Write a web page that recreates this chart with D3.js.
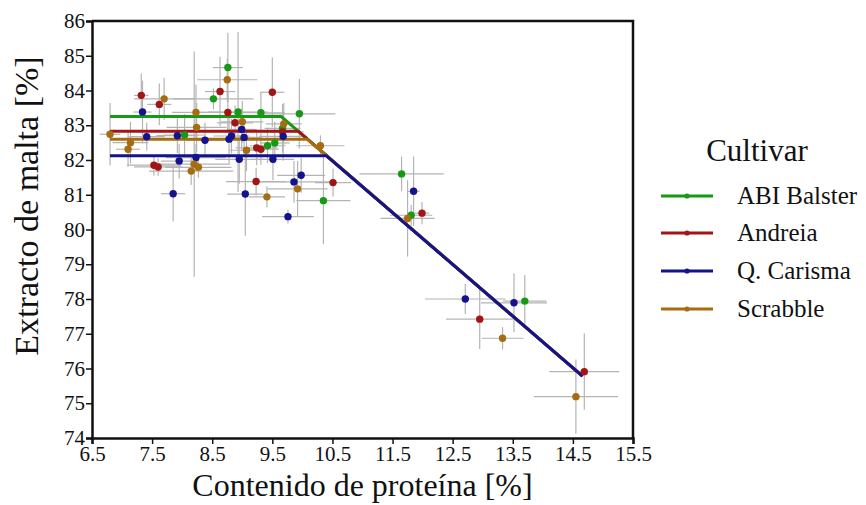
<!DOCTYPE html>
<html>
<head>
<meta charset="utf-8">
<script src="https://cdn.jsdelivr.net/npm/d3@7"></script>
<style>
  body { margin: 0; background: #fff; }
</style>
</head>
<body>
<svg width="866" height="505" font-family="Liberation Serif"></svg>
<script>
// each row: [protein %, extract %, protein error, extract error]
var abiBalster = [
  [8.04, 82.72, 0.35, 0.6], [8.52, 83.76, 0.67, 0.3], [8.76, 84.66, 0.25, 1.0],
  [8.93, 83.38, 0.5, 2.3], [9.31, 83.36, 0.4, 0.6], [9.42, 82.41, 0.3, 0.5],
  [9.54, 82.49, 0.25, 0.6], [9.67, 82.91, 0.3, 0.7], [9.95, 83.33, 0.6, 1.0],
  [10.35, 80.83, 0.45, 1.25], [11.65, 81.60, 0.7, 0.5], [11.81, 80.41, 0.35, 0.3],
  [13.70, 77.94, 0.36, 0.75]
];
var andreia = [
  [7.32, 83.86, 0.12, 0.63], [7.62, 83.60, 0.2, 0.6], [7.53, 81.85, 0.45, 0.3],
  [7.60, 81.80, 0.4, 0.25], [8.63, 83.97, 0.25, 1.0], [8.76, 83.37, 0.45, 0.6],
  [8.88, 83.07, 0.3, 0.5], [9.23, 81.38, 0.5, 0.4], [9.24, 82.35, 0.35, 0.5],
  [9.31, 82.31, 0.3, 0.45], [9.50, 83.95, 0.2, 1.0], [9.67, 82.81, 0.35, 0.5],
  [10.51, 81.35, 0.3, 0.4], [11.99, 80.47, 0.12, 0.32], [12.95, 77.42, 0.56, 0.86],
  [14.69, 75.91, 0.58, 1.1]
];
var qCarisma = [
  [7.34, 83.38, 0.15, 0.9], [7.41, 82.67, 0.3, 0.4], [7.85, 81.03, 0.2, 0.8],
  [7.95, 81.97, 0.3, 0.5], [7.92, 82.70, 0.35, 0.5], [8.23, 82.07, 0.5, 0.4],
  [8.38, 82.57, 0.3, 0.5], [8.78, 82.60, 0.4, 0.7], [8.82, 82.69, 0.3, 0.5],
  [8.99, 82.88, 0.25, 0.6], [9.03, 82.65, 0.3, 0.5], [8.95, 82.02, 0.4, 0.7],
  [9.05, 81.02, 0.3, 1.2], [9.51, 82.02, 0.35, 0.6], [9.68, 82.68, 0.4, 0.7],
  [9.98, 81.56, 0.4, 0.5], [9.86, 81.37, 0.6, 0.6], [9.76, 80.37, 0.43, 0.2],
  [11.85, 81.10, 0.1, 1.0], [12.71, 78.00, 0.67, 0.43], [13.52, 77.89, 0.55, 0.85]
];
var scrabble = [
  [6.80, 82.74, 0.17, 0.9], [7.10, 82.31, 0.2, 0.5], [7.14, 82.50, 0.3, 0.6],
  [7.70, 83.76, 0.5, 0.6], [8.23, 83.37, 0.4, 0.8], [8.24, 82.94, 0.5, 0.7],
  [8.20, 81.88, 0.6, 3.24], [8.27, 81.79, 0.55, 0.3], [8.15, 81.68, 0.7, 0.4],
  [8.75, 84.31, 0.5, 0.6], [9.00, 83.10, 0.35, 0.6], [9.07, 82.28, 0.3, 0.6],
  [9.41, 80.94, 0.3, 0.3], [9.69, 83.04, 0.3, 0.6], [9.92, 81.17, 0.5, 0.8],
  [10.30, 82.41, 0.4, 0.3], [11.75, 80.32, 0.45, 1.1], [13.33, 76.87, 0.35, 0.32],
  [14.55, 75.19, 0.7, 1.07]
];

var cultivars = ["ABI Balster", "Andreia", "Q. Carisma", "Scrabble"];
var colors = ["#169a16", "#a31414", "#13138e", "#a56d10"];
// broken-line fit: plateau level, break point, shared descending end
var plateau = [83.25, 82.83, 82.12, 82.60];
var breakX = [9.65, 9.93, 10.40, 10.08];
var fitStartX = 6.8;
var fitEnd = [14.66, 75.78];

var xTicks = [6.5, 7.5, 8.5, 9.5, 10.5, 11.5, 12.5, 13.5, 14.5, 15.5];
var yTicks = [74, 75, 76, 77, 78, 79, 80, 81, 82, 83, 84, 85, 86];

var series = [abiBalster, andreia, qCarisma, scrabble];
var FONT = "Liberation Serif";

var svg = d3.select("svg");
var plotL = 92, plotR = 633, plotT = 21, plotB = 438;

var x = d3.scaleLinear().domain([6.5, 15.5]).range([plotL, plotR]);
var y = d3.scaleLinear().domain([74, 86]).range([plotB, plotT]);

function serifText(sel, size) {
  return sel.attr("font-family", FONT)
    .style("font-family", FONT)
    .attr("font-size", size)
    .attr("fill", "#111");
}

// error bars
var err = svg.append("g").attr("stroke", "#b4b4b4").attr("stroke-width", 1.2);
series.forEach(function(s) {
  s.forEach(function(d) {
    err.append("line")
      .attr("x1", x(d[0] - d[2])).attr("x2", x(d[0] + d[2]))
      .attr("y1", y(d[1])).attr("y2", y(d[1]));
    err.append("line")
      .attr("x1", x(d[0])).attr("x2", x(d[0]))
      .attr("y1", y(Math.max(74, d[1] - d[3]))).attr("y2", y(Math.min(86, d[1] + d[3])));
  });
});

// fitted lines, blue drawn last so the shared slope reads blue
var line = d3.line().x(function(d) { return x(d[0]); }).y(function(d) { return y(d[1]); });
[0, 1, 3, 2].forEach(function(i) {
  svg.append("path")
    .attr("d", line([[fitStartX, plateau[i]], [breakX[i], plateau[i]], fitEnd]))
    .attr("fill", "none")
    .attr("stroke", colors[i])
    .attr("stroke-width", 3)
    .attr("stroke-linejoin", "round");
});

// points
series.forEach(function(s, i) {
  svg.append("g").selectAll("circle")
    .data(s)
    .enter().append("circle")
    .attr("cx", function(d) { return x(d[0]); })
    .attr("cy", function(d) { return y(d[1]); })
    .attr("r", 3.7)
    .attr("fill", colors[i]);
});

// frame
svg.append("path")
  .attr("d", "M" + plotL + "," + plotT + "H" + plotR + "V" + plotB)
  .attr("fill", "none").attr("stroke", "#111").attr("stroke-width", 2.5);

var xAxis = svg.append("g")
  .attr("transform", "translate(0," + plotB + ")")
  .call(d3.axisBottom(x).tickValues(xTicks).tickFormat(d3.format(".1f")).tickSize(6).tickPadding(2));
var yAxis = svg.append("g")
  .attr("transform", "translate(" + plotL + ",0)")
  .call(d3.axisLeft(y).tickValues(yTicks).tickSize(6).tickPadding(1));

[xAxis, yAxis].forEach(function(a) {
  a.attr("font-family", FONT).attr("font-size", 21);
  a.select(".domain").attr("stroke", "#111").attr("stroke-width", 2.5);
  a.selectAll(".tick line").attr("stroke", "#111").attr("stroke-width", 1.5);
  serifText(a.selectAll("text"), 21);
});

serifText(svg.append("text"), 32)
  .attr("x", (plotL + plotR) / 2).attr("y", 496)
  .attr("text-anchor", "middle")
  .text("Contenido de proteína [%]");

serifText(svg.append("text"), 34)
  .attr("transform", "translate(38,206) rotate(-90)")
  .attr("text-anchor", "middle")
  .text("Extracto de malta [%]");

// legend
var legend = svg.append("g");
serifText(legend.append("text"), 31)
  .attr("x", 757).attr("y", 161)
  .attr("text-anchor", "middle")
  .text("Cultivar");

var rowY = [196, 233, 271, 309];
cultivars.forEach(function(c, i) {
  legend.append("line")
    .attr("x1", 661).attr("x2", 713)
    .attr("y1", rowY[i]).attr("y2", rowY[i])
    .attr("stroke", colors[i]).attr("stroke-width", 3);
  legend.append("circle")
    .attr("cx", 687).attr("cy", rowY[i]).attr("r", 2.6)
    .attr("fill", colors[i]);
  serifText(legend.append("text"), 25)
    .attr("x", 737).attr("y", rowY[i] + 8)
    .text(c);
});
</script>
</body>
</html>
